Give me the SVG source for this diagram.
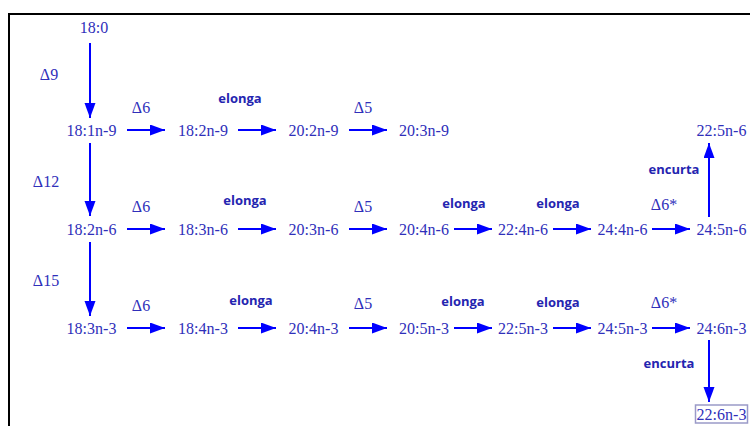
<svg xmlns="http://www.w3.org/2000/svg" width="750" height="426" viewBox="0 0 750 426">
  <style>
    .node { font-family: "Liberation Serif", "Times New Roman", serif; font-size: 16px; fill: #2f2fba; text-anchor: middle; }
    .enz { font-family: "Liberation Serif", "Times New Roman", serif; font-size: 16px; fill: #2f2fba; text-anchor: middle; }
    .step { font-family: "Open Sans", "Liberation Sans", Arial, sans-serif; font-size: 13px; font-weight: bold; fill: #2424b0; text-anchor: middle; }
    .arrow { stroke: #0000ff; stroke-width: 2; fill: none; marker-end: url(#head); }
  </style>
  <defs>
    <marker id="head" markerUnits="userSpaceOnUse" markerWidth="16" markerHeight="12" refX="15" refY="5.5" orient="auto">
      <path d="M0,0 L15,5.5 L0,11 Z" fill="#0000ff"/>
    </marker>
  </defs>
  <rect width="750" height="426" fill="#ffffff"/>
  <!-- frame -->
  <rect x="9" y="14" width="760" height="430" fill="none" stroke="#000000" stroke-width="2"/>

  <!-- connectors -->
  <g id="connectors">
    <line class="arrow" x1="90" y1="43" x2="90" y2="118"/>
    <line class="arrow" x1="90" y1="143" x2="90" y2="216"/>
    <line class="arrow" x1="90" y1="242" x2="90" y2="316"/>
    <!-- row n-9 -->
    <line class="arrow" x1="127" y1="130" x2="165" y2="130"/>
    <line class="arrow" x1="238" y1="130" x2="276" y2="130"/>
    <line class="arrow" x1="349" y1="130" x2="387" y2="130"/>
    <!-- row n-6 -->
    <line class="arrow" x1="127" y1="229" x2="165" y2="229"/>
    <line class="arrow" x1="238" y1="229" x2="276" y2="229"/>
    <line class="arrow" x1="349" y1="229" x2="387" y2="229"/>
    <line class="arrow" x1="454" y1="229" x2="492" y2="229"/>
    <line class="arrow" x1="553" y1="229" x2="591" y2="229"/>
    <line class="arrow" x1="652" y1="229" x2="690" y2="229"/>
    <line class="arrow" x1="709" y1="217" x2="709" y2="143"/>
    <!-- row n-3 -->
    <line class="arrow" x1="127" y1="328" x2="165" y2="328"/>
    <line class="arrow" x1="238" y1="328" x2="276" y2="328"/>
    <line class="arrow" x1="349" y1="328" x2="387" y2="328"/>
    <line class="arrow" x1="454" y1="328" x2="492" y2="328"/>
    <line class="arrow" x1="553" y1="328" x2="591" y2="328"/>
    <line class="arrow" x1="652" y1="328" x2="690" y2="328"/>
    <line class="arrow" x1="709" y1="340" x2="709" y2="402"/>
  </g>

  <!-- step labels -->
  <g id="labels">
    <text class="enz" x="49" y="80">Δ9</text>
    <text class="enz" x="46" y="187">Δ12</text>
    <text class="enz" x="46" y="286">Δ15</text>

    <text class="enz" x="141" y="113">Δ6</text>
    <text class="step" x="240" y="103">elonga</text>
    <text class="enz" x="363" y="113">Δ5</text>

    <text class="enz" x="141" y="212">Δ6</text>
    <text class="step" x="245" y="205">elonga</text>
    <text class="enz" x="363" y="212">Δ5</text>
    <text class="step" x="464" y="208">elonga</text>
    <text class="step" x="558" y="208">elonga</text>
    <text class="enz" x="664" y="210">Δ6*</text>
    <text class="step" x="674" y="174">encurta</text>

    <text class="enz" x="141" y="311">Δ6</text>
    <text class="step" x="251" y="305">elonga</text>
    <text class="enz" x="363" y="309">Δ5</text>
    <text class="step" x="463" y="306">elonga</text>
    <text class="step" x="558" y="307">elonga</text>
    <text class="enz" x="664" y="308">Δ6*</text>
    <text class="step" x="669" y="368">encurta</text>
  </g>

  <!-- fatty acid nodes -->
  <g id="n-18-0"><text class="node" x="94" y="33">18:0</text></g>

  <g id="n-18-1n9"><text class="node" x="91.5" y="136">18:1n-9</text></g>
  <g id="n-18-2n9"><text class="node" x="203" y="136">18:2n-9</text></g>
  <g id="n-20-2n9"><text class="node" x="313.5" y="136">20:2n-9</text></g>
  <g id="n-20-3n9"><text class="node" x="424" y="136">20:3n-9</text></g>
  <g id="n-22-5n6"><text class="node" x="721.5" y="136">22:5n-6</text></g>

  <g id="n-18-2n6"><text class="node" x="91.5" y="235">18:2n-6</text></g>
  <g id="n-18-3n6"><text class="node" x="203" y="235">18:3n-6</text></g>
  <g id="n-20-3n6"><text class="node" x="313.5" y="235">20:3n-6</text></g>
  <g id="n-20-4n6"><text class="node" x="424" y="235">20:4n-6</text></g>
  <g id="n-22-4n6"><text class="node" x="523" y="235">22:4n-6</text></g>
  <g id="n-24-4n6"><text class="node" x="622.5" y="235">24:4n-6</text></g>
  <g id="n-24-5n6"><text class="node" x="721.5" y="235">24:5n-6</text></g>

  <g id="n-18-3n3"><text class="node" x="91.5" y="334">18:3n-3</text></g>
  <g id="n-18-4n3"><text class="node" x="203" y="334">18:4n-3</text></g>
  <g id="n-20-4n3"><text class="node" x="313.5" y="334">20:4n-3</text></g>
  <g id="n-20-5n3"><text class="node" x="424" y="334">20:5n-3</text></g>
  <g id="n-22-5n3"><text class="node" x="523" y="334">22:5n-3</text></g>
  <g id="n-24-5n3"><text class="node" x="622.5" y="334">24:5n-3</text></g>
  <g id="n-24-6n3"><text class="node" x="721.5" y="334">24:6n-3</text></g>

  <g id="n-22-6n3">
    <rect x="695.5" y="405" width="52" height="18" fill="#ffffff" stroke="#9a9ac8" stroke-width="1.5"/>
    <text class="node" x="721.5" y="420">22:6n-3</text>
  </g>
</svg>
